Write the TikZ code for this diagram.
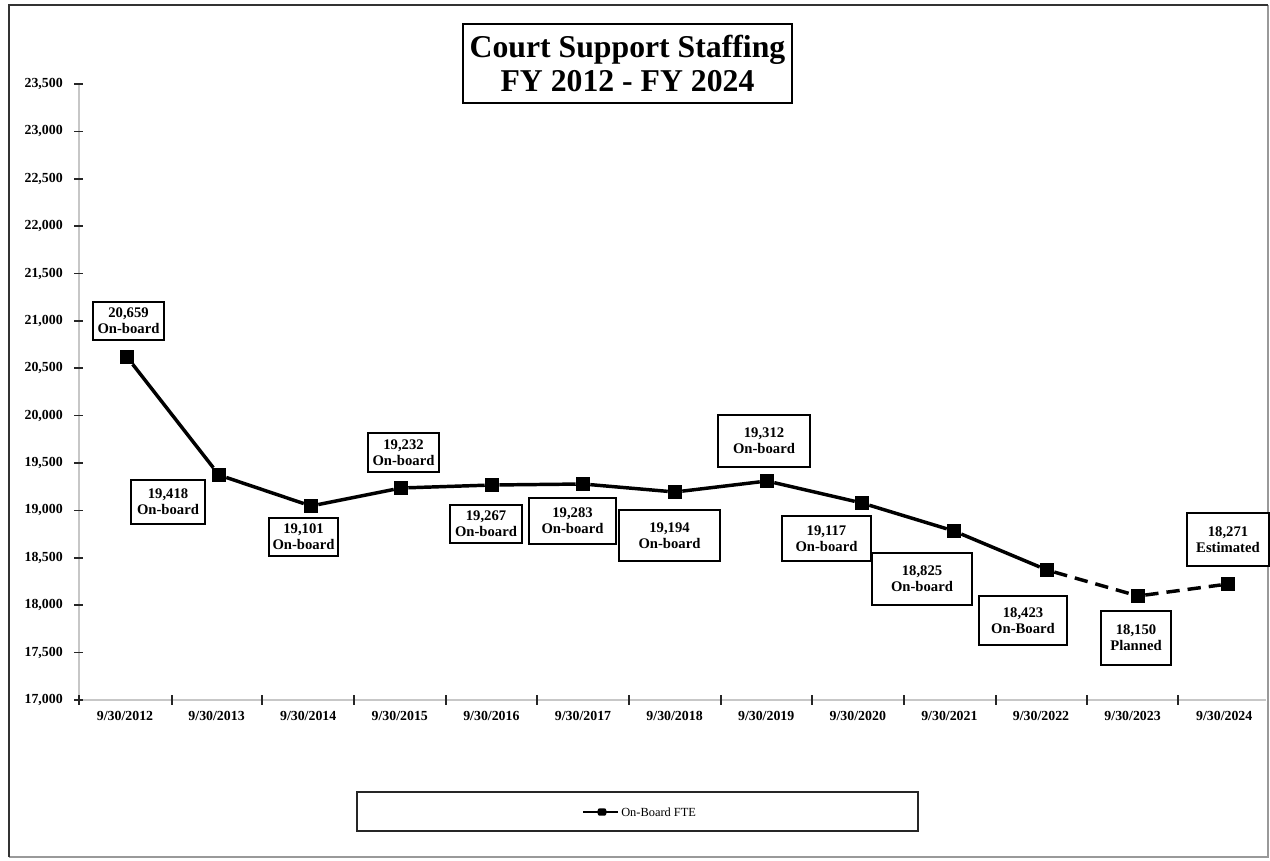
\documentclass[tikz,border=0pt]{standalone}
\usepackage{fontspec}
\setmainfont{Liberation Serif}
\begin{document}
\begin{tikzpicture}[x=0.75pt,y=-0.75pt,
  lbl/.style={draw=black,line width=1pt,fill=white,align=center,inner sep=0pt,
    font=\bfseries\fontsize{11}{12}\selectfont},
  bx/.style 2 args={minimum width=#1*0.75pt,minimum height=#2*0.75pt},
  ylab/.style={anchor=east,inner sep=0pt,font=\bfseries\fontsize{10.4}{12}\selectfont},
  xlab/.style={inner sep=0pt,font=\bfseries\fontsize{10.4}{12}\selectfont},
  mk/.style={rectangle,fill=black,minimum size=10.5pt,inner sep=0pt},
  dataline/.style={line width=2.6pt,black},
  axisline/.style={line width=1.5pt,black!22},
  tk/.style={line width=1.2pt,black!85}]
\useasboundingbox (0,0) rectangle (1270,860);
\fill[white] (0,0) rectangle (1270,860);
% frame
\draw[line width=1.2pt,black!40] (1268,5) -- (1268,857) -- (9,857);
\draw[line width=1.5pt,black!80] (9,857) -- (9,5) -- (1268,5);

% title
\node[draw=black,line width=1.5pt,fill=white,align=center,inner sep=0pt,bx={329}{79},
  font=\bfseries\fontsize{23.8}{25.5}\selectfont] (title) at (627.5,63.5)
  {Court Support Staffing\\FY 2012 - FY 2024};

% axes
\coordinate (ytop) at (79,84);
\coordinate (orig) at (79,700);
\coordinate (xend) at (1266,700);
\draw[axisline] (ytop) -- (orig) -- (xend);
\foreach \v [count=\i from 0] in {23{,}500,23{,}000,22{,}500,22{,}000,21{,}500,21{,}000,20{,}500,20{,}000,19{,}500,19{,}000,18{,}500,18{,}000,17{,}500,17{,}000}{
  \coordinate (yt\i) at (79,84+\i*47.38);
  \draw[tk] ([xshift=-3.75pt]yt\i) -- ([xshift=3pt]yt\i);
  \node[ylab] (yl\i) at (63,84+\i*47.38) {\v};
}
\draw[tk] (79,695) -- (79,705);
\foreach \x [count=\i] in {172,262,354,446,537,629,721,812,904,996,1087,1178}{
  \coordinate (xt\i) at (\x,700);
  \draw[tk] ([yshift=3.75pt]xt\i) -- ([yshift=-3.75pt]xt\i);
}
\foreach \yr [count=\i from 0] in {2012,2013,2014,2015,2016,2017,2018,2019,2020,2021,2022,2023,2024}{
  \node[xlab] (xl\yr) at (125+\i*91.6,716) {9/30/\yr};
}

% data points
\node[mk] (p12) at (127,357) {};
\node[mk] (p13) at (219,475) {};
\node[mk] (p14) at (311,506) {};
\node[mk] (p15) at (401,488) {};
\node[mk] (p16) at (492,485) {};
\node[mk] (p17) at (583,484) {};
\node[mk] (p18) at (675,492) {};
\node[mk] (p19) at (767,481) {};
\node[mk] (p20) at (862,503) {};
\node[mk] (p21) at (954,531) {};
\node[mk] (p22) at (1047,570) {};
\node[mk] (p23) at (1138,596) {};
\node[mk] (p24) at (1228,584) {};
\draw[dataline] (p12) -- (p13) -- (p14) -- (p15) -- (p16) -- (p17) -- (p18)
  -- (p19) -- (p20) -- (p21) -- (p22);
\draw[dataline,dash pattern=on 10pt off 6pt] (p22) -- (p23) -- (p24);

% value labels
\node[lbl,bx={71}{38}] (l12) at (128.5,321) {20,659\\On-board};
\node[lbl,bx={74}{44}] (l13) at (168,502) {19,418\\On-board};
\node[lbl,bx={69}{38}] (l14) at (303.5,537) {19,101\\On-board};
\node[lbl,bx={71}{39}] (l15) at (403.5,452.5) {19,232\\On-board};
\node[lbl,bx={72}{38}] (l16) at (486,524) {19,267\\On-board};
\node[lbl,bx={87}{46}] (l17) at (572.5,521) {19,283\\On-board};
\node[lbl,bx={101}{51}] (l18) at (669.5,535.5) {19,194\\On-board};
\node[lbl,bx={92}{52}] (l19) at (764,441) {19,312\\On-board};
\node[lbl,bx={89}{45}] (l20) at (826.5,538.5) {19,117\\On-board};
\node[lbl,bx={100}{52}] (l21) at (922,579) {18,825\\On-board};
\node[lbl,bx={88}{49}] (l22) at (1023,620.5) {18,423\\On-Board};
\node[lbl,bx={70}{54}] (l23) at (1136,638) {18,150\\Planned};
\node[lbl,bx={82}{53}] (l24) at (1228,539.5) {18,271\\Estimated};

% legend
\node[draw=black!85,line width=1.2pt,fill=white,inner sep=0pt,bx={561}{39}] (legend) at (637.5,811.5) {};
\coordinate (la) at (583,812);
\coordinate (lb) at (618,812);
\draw[line width=1.5pt] (la) -- (lb);
\node[fill=black,rectangle,rounded corners=1.5pt,minimum width=6.5pt,minimum height=5.5pt,inner sep=0pt] (lm) at (602,812) {};
\node[anchor=west,inner sep=0pt,font=\fontsize{9.3}{10}\selectfont] (ltext) at (621,812) {On-Board FTE};
\end{tikzpicture}
\end{document}
